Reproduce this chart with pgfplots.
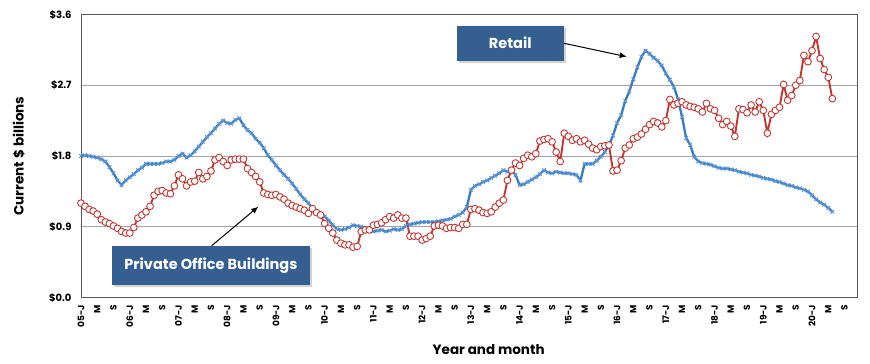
\documentclass[border=0pt]{standalone}
\usepackage{fontspec}
\setmainfont{Poppins}
\usepackage{pgfplots}
\usepackage{pgfplotstable}
\pgfplotsset{compat=1.18}
\usetikzlibrary{shadows,arrows.meta}
\definecolor{retail}{RGB}{58,122,192}
\definecolor{retailmk}{RGB}{90,150,215}
\definecolor{office}{RGB}{192,56,50}
\definecolor{boxblue}{RGB}{53,94,145}
\definecolor{gridgray}{RGB}{165,165,165}

\pgfplotstableread{
m v
0 1.80
1 1.81
2 1.80
3 1.79
4 1.78
5 1.76
6 1.73
7 1.66
8 1.58
9 1.49
10 1.43
11 1.49
12 1.53
13 1.57
14 1.62
15 1.65
16 1.70
17 1.70
18 1.70
19 1.70
20 1.71
21 1.73
22 1.73
23 1.75
24 1.80
25 1.83
26 1.78
27 1.81
28 1.86
29 1.92
30 1.98
31 2.04
32 2.09
33 2.15
34 2.21
35 2.25
36 2.22
37 2.21
38 2.26
39 2.28
40 2.19
41 2.13
42 2.09
43 2.02
44 1.97
45 1.90
46 1.81
47 1.75
48 1.68
49 1.62
50 1.56
51 1.51
52 1.45
53 1.38
54 1.31
55 1.25
56 1.20
57 1.14
58 1.09
59 1.06
60 1.03
61 0.98
62 0.92
63 0.87
64 0.86
65 0.87
66 0.89
67 0.92
68 0.91
69 0.90
70 0.87
71 0.85
72 0.84
73 0.85
74 0.86
75 0.84
76 0.85
77 0.87
78 0.86
79 0.87
80 0.91
81 0.93
82 0.94
83 0.95
84 0.96
85 0.96
86 0.96
87 0.96
88 0.97
89 0.98
90 0.99
91 1.00
92 1.03
93 1.05
94 1.08
95 1.15
96 1.37
97 1.42
98 1.44
99 1.47
100 1.49
101 1.52
102 1.55
103 1.58
104 1.62
105 1.60
106 1.61
107 1.56
108 1.43
109 1.44
110 1.47
111 1.50
112 1.53
113 1.57
114 1.62
115 1.59
116 1.58
117 1.60
118 1.59
119 1.58
120 1.58
121 1.57
122 1.56
123 1.49
124 1.70
125 1.70
126 1.70
127 1.74
128 1.79
129 1.85
130 1.94
131 2.06
132 2.22
133 2.32
134 2.50
135 2.62
136 2.78
137 2.93
138 3.06
139 3.14
140 3.10
141 3.05
142 3.01
143 2.95
144 2.85
145 2.77
146 2.68
147 2.52
148 2.30
149 2.03
150 1.94
151 1.79
152 1.73
153 1.71
154 1.70
155 1.69
156 1.67
157 1.65
158 1.64
159 1.64
160 1.63
161 1.62
162 1.60
163 1.59
164 1.58
165 1.56
166 1.55
167 1.54
168 1.52
169 1.51
170 1.50
171 1.48
172 1.47
173 1.45
174 1.43
175 1.42
176 1.40
177 1.39
178 1.37
179 1.35
180 1.30
181 1.25
182 1.21
183 1.18
184 1.14
185 1.09
}\retail

\pgfplotstableread{
m v
0 1.20
1 1.16
2 1.12
3 1.10
4 1.06
5 0.99
6 0.96
7 0.94
8 0.91
9 0.88
10 0.84
11 0.82
12 0.82
13 0.89
14 1.01
15 1.05
16 1.09
17 1.16
18 1.30
19 1.35
20 1.36
21 1.33
22 1.32
23 1.42
24 1.56
25 1.51
26 1.42
27 1.47
28 1.48
29 1.59
30 1.51
31 1.54
32 1.61
33 1.75
34 1.78
35 1.73
36 1.68
37 1.75
38 1.76
39 1.76
40 1.76
41 1.64
42 1.59
43 1.54
44 1.47
45 1.33
46 1.31
47 1.30
48 1.31
49 1.28
50 1.25
51 1.20
52 1.17
53 1.15
54 1.13
55 1.11
56 1.07
57 1.13
58 1.08
59 1.05
60 0.94
61 0.88
62 0.82
63 0.73
64 0.69
65 0.67
66 0.67
67 0.64
68 0.65
69 0.84
70 0.86
71 0.86
72 0.92
73 0.93
74 0.95
75 0.99
76 1.03
77 1.01
78 1.05
79 1.01
80 1.01
81 0.78
82 0.78
83 0.78
84 0.73
85 0.75
86 0.78
87 0.91
88 0.92
89 0.91
90 0.88
91 0.89
92 0.89
93 0.88
94 0.93
95 0.93
96 1.12
97 1.13
98 1.11
99 1.08
100 1.07
101 1.09
102 1.15
103 1.20
104 1.24
105 1.49
106 1.62
107 1.71
108 1.68
109 1.77
110 1.81
111 1.79
112 1.83
113 1.99
114 2.01
115 2.02
116 1.98
117 1.85
118 1.73
119 2.09
120 2.05
121 2.00
122 2.02
123 1.98
124 2.00
125 1.95
126 1.90
127 1.88
128 1.92
129 1.93
130 1.94
131 1.61
132 1.62
133 1.74
134 1.90
135 1.94
136 2.02
137 2.04
138 2.08
139 2.14
140 2.20
141 2.24
142 2.22
143 2.17
144 2.25
145 2.52
146 2.45
147 2.47
148 2.49
149 2.45
150 2.43
151 2.42
152 2.40
153 2.36
154 2.47
155 2.40
156 2.38
157 2.28
158 2.20
159 2.24
160 2.18
161 2.05
162 2.40
163 2.39
164 2.35
165 2.45
166 2.36
167 2.49
168 2.38
169 2.09
170 2.33
171 2.38
172 2.42
173 2.71
174 2.51
175 2.57
176 2.70
177 2.76
178 3.08
179 3.00
180 3.14
181 3.32
182 3.04
183 2.90
184 2.80
185 2.53
}\office

\begin{document}
\begin{tikzpicture}
\useasboundingbox (0,0) rectangle (870pt,364pt);
\begin{axis}[
  at={(81pt,66.5pt)}, anchor=south west,
  scale only axis, width=776.5pt, height=283pt,
  xmin=0, xmax=191.2, ymin=0, ymax=3.6,
  ytick={0,0.9,1.8,2.7,3.6},
  yticklabels={\$0.0,\$0.9,\$1.8,\$2.7,\$3.6},
  ymajorgrids, grid style={gridgray, line width=0.9pt},
  xtick={0,4,...,188},
  xticklabels={05-J,M,S,06-J,M,S,07-J,M,S,08-J,M,S,09-J,M,S,10-J,M,S,11-J,M,S,12-J,M,S,13-J,M,S,14-J,M,S,15-J,M,S,16-J,M,S,17-J,M,S,18-J,M,S,19-J,M,S,20-J,M,S},
  x tick label style={yshift=-4pt, rotate=90, anchor=east, font=\fontsize{9}{10}\selectfont\bfseries},
  y tick label style={xshift=-6pt, font=\fontsize{10}{12}\selectfont\bfseries},
  major tick length=0pt,
  axis line style={gray!70!black, line width=0.8pt},
  xlabel={Year and month},
  ylabel={Current \$ billions},
  xlabel style={at={(axis description cs:0.525,-0.185)}, anchor=center, font=\fontsize{13.5}{15}\selectfont\bfseries},
  ylabel style={at={(axis description cs:-0.080,0.5)}, anchor=center, font=\fontsize{13.5}{15}\selectfont\bfseries},
  clip=false,
]
\addplot[retail, line width=2.3pt, mark=x, mark size=2.6pt,
  mark options={line width=0.9pt, color=retailmk}] table[x=m,y=v] {\retail};
\addplot[office, line width=1.9pt, mark=*, mark size=3.4pt,
  mark options={fill=white, draw=office, line width=0.9pt}] table[x=m,y=v] {\office};
\end{axis}
% callouts
\node[fill=boxblue, text=white, minimum width=107pt, minimum height=35pt,
  font=\fontsize{14.5}{16}\selectfont\bfseries, inner sep=0pt,
  drop shadow={shadow xshift=2.5pt, shadow yshift=-2.5pt, opacity=0.35}] at (510.3pt,320.8pt) {Retail};
\draw[-{Latex[length=7pt,width=6pt]}, line width=1pt, black] (564pt,320.7pt) -- (626.7pt,307.3pt);
\node[fill=boxblue, text=white, minimum width=198pt, minimum height=39pt,
  font=\fontsize{14.5}{16}\selectfont\bfseries, inner sep=0pt,
  drop shadow={shadow xshift=2.5pt, shadow yshift=-2.5pt, opacity=0.35}] at (210.9pt,98.6pt) {Private Office Buildings};
\draw[-{Latex[length=7pt,width=6pt]}, line width=1pt, black] (211.7pt,118.3pt) -- (258.3pt,157.3pt);
\end{tikzpicture}
\end{document}
